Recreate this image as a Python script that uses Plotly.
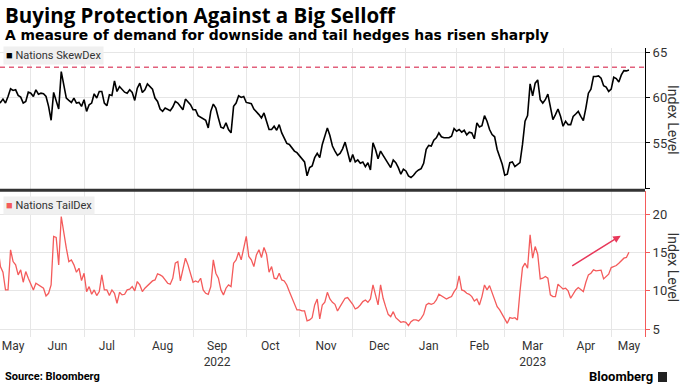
import pandas as pd
import plotly.graph_objects as go

# ---------------- data ----------------
holidays = ["2022-05-30", "2022-06-20", "2022-07-04", "2022-09-05", "2022-11-24",
            "2022-12-26", "2023-01-02", "2023-01-16", "2023-02-20", "2023-04-07"]
last_date = "2023-05-10"

skewdex = [
    59.57, 59.46, 59.83, 59.39, 60.12, 60.96, 60.78, 60.85, 60.23, 60.05,
    59.39, 59.57, 60.59, 60.48, 60.12, 60.85, 60.37, 60.48, 60.41, 60.12,
    59.03, 57.50, 60.56, 59.76, 58.74, 62.85, 61.58, 59.94, 59.68, 59.46,
    59.94, 59.39, 59.46, 59.03, 59.76, 58.48, 59.21, 59.39, 60.41, 59.94,
    60.67, 60.67, 59.39, 59.10, 60.30, 60.23, 61.83, 60.67, 61.21, 60.92,
    60.59, 60.48, 60.85, 60.56, 59.68, 61.03, 61.58, 60.56, 60.85, 61.50,
    61.21, 60.92, 59.94, 59.57, 58.74, 58.48, 58.84, 58.66, 58.55, 58.95,
    59.57, 59.39, 59.03, 58.66, 59.83, 59.46, 59.21, 58.66, 58.66, 58.01,
    57.82, 57.72, 57.50, 56.66, 58.48,
    59.28, 58.84, 57.75, 56.73, 56.62, 57.21, 56.48, 56.11, 59.03, 59.39,
    60.19, 60.01, 60.12, 59.46, 59.39, 59.32, 58.74, 58.48, 58.12, 57.75,
    58.30, 57.39, 56.48, 56.48, 56.84, 56.40, 57.02, 56.11, 55.57, 54.95,
    54.84, 54.47, 54.11, 53.93, 53.56, 53.27, 52.91, 51.38, 52.29, 52.47,
    53.38, 53.85, 53.38, 54.84, 55.68, 56.66, 55.82, 54.66, 54.11, 53.64,
    53.85, 54.36, 55.09, 53.85, 52.91, 53.74, 52.91, 53.13, 52.76, 52.91,
    52.40, 52.83, 52.03, 55.02, 54.29, 53.27, 54.11, 53.64, 53.20, 52.83,
    52.29, 53.13, 52.83, 52.29, 51.56, 52.11, 51.92, 51.38, 51.19,
    51.45, 51.81, 52.03, 52.18, 52.76, 54.29,
    54.73, 54.66, 55.31, 55.57, 56.11, 55.68, 55.57, 55.57, 55.57, 55.75,
    56.59, 56.29, 56.48, 56.19, 56.40, 55.89, 56.19, 56.11, 55.46, 57.21,
    56.77, 56.91, 58.01, 57.39, 56.48, 55.93, 55.68, 54.29, 53.56, 52.65,
    51.45, 51.56, 52.83, 52.91, 52.40, 52.65, 52.83, 54.84, 57.39, 58.01,
    61.50, 60.19, 61.58, 61.94, 59.76, 59.39, 59.76, 60.37, 58.95, 57.57,
    58.12, 58.74, 57.93, 56.84, 57.39, 57.02, 57.02, 57.93, 58.19, 58.48,
    57.93, 57.46, 58.84, 60.48, 60.92, 62.31, 62.31, 62.38, 62.12, 61.29,
    61.14, 60.67, 60.92, 62.23, 62.09, 61.72, 62.49, 62.96, 62.93, 63.03,
]

taildex = [
    15.78, 13.17, 12.43, 10.13, 10.13, 15.35, 13.82, 13.39, 12.09, 12.74,
    11.13, 12.52, 11.65, 10.78, 10.13, 11.00, 10.78, 10.56, 10.35, 9.35,
    9.69, 10.78, 17.09, 16.95, 13.39, 19.69, 17.30, 15.56, 13.82, 14.04,
    13.39, 12.43, 12.95, 11.35, 12.30, 9.91, 10.56, 9.56, 10.13, 9.39,
    9.91, 12.09, 10.13, 10.13, 9.39, 10.13, 9.69, 8.39, 9.82, 9.48,
    9.56, 10.13, 10.22, 10.56, 10.00, 11.22, 10.78, 9.91, 10.35, 10.69,
    11.00, 11.30, 11.43, 12.22, 12.09, 11.87, 11.43, 11.00, 10.87, 11.65,
    13.61, 13.82, 11.30, 12.74, 14.26, 13.39, 12.09, 11.13, 11.30, 11.13,
    11.65, 10.13, 9.69, 9.56, 10.56,
    14.04, 12.30, 11.65, 10.13, 9.48, 10.35, 10.78, 10.56, 13.61, 14.04,
    15.04, 14.04, 15.56, 17.09, 14.48, 14.04, 13.17, 14.69, 15.35, 14.35,
    15.65, 14.78, 12.43, 13.17, 11.65, 11.56, 12.30, 11.43, 11.30, 10.78,
    9.91, 9.04, 8.39, 7.52, 7.52, 7.39, 7.39, 6.09, 6.22, 6.52,
    8.17, 8.95, 6.35, 8.17, 8.52, 9.82, 8.95, 8.52, 8.26, 7.39,
    7.95, 8.52, 9.04, 9.13, 8.69, 8.26, 7.65, 7.82, 8.17, 8.61,
    8.82, 8.52, 8.95, 10.78, 9.48, 8.17, 10.78, 9.04, 7.95, 6.95,
    6.65, 7.30, 6.52, 6.22, 5.91, 6.00, 5.91, 5.48, 6.00,
    6.22, 6.22, 6.09, 6.43, 6.95, 8.17,
    8.39, 8.26, 8.39, 8.82, 9.56, 9.35, 9.13, 8.95, 9.13, 9.26,
    9.91, 10.35, 11.95, 10.13, 10.00, 9.69, 9.56, 9.26, 8.69, 8.95,
    8.17, 9.26, 10.78, 10.13, 10.69, 9.69, 8.69, 7.95, 7.52, 6.95,
    6.35, 5.78, 6.52, 6.43, 6.52, 6.22, 9.91, 13.04, 13.61, 12.95,
    17.30, 14.26, 15.78, 14.78, 11.56, 11.65, 11.87, 11.65, 9.48, 9.26,
    9.26, 10.87, 10.56, 10.26, 10.35, 10.00, 9.04, 9.69, 10.13, 10.43,
    10.13, 9.91, 11.13, 12.09, 12.30, 12.74, 12.61, 12.61, 12.70, 11.56,
    11.87, 12.17, 13.04, 13.17, 13.30, 13.61, 13.91, 14.26, 14.35, 15.04,
]

skew_reference_level = 63.33

month_label_dates = ["2022-05-20", "2022-06-15 12:00", "2022-07-15", "2022-08-16", "2022-09-15 12:00",
                     "2022-10-14 12:00", "2022-11-15 12:00", "2022-12-15 12:00", "2023-01-17",
                     "2023-02-14", "2023-03-16", "2023-04-17", "2023-05-10"]
month_labels = ["May", "Jun", "Jul", "Aug", "Sep<br>2022", "Oct", "Nov", "Dec", "Jan",
                "Feb", "Mar<br>2023", "Apr", "May"]
month_starts = ["2022-06-01", "2022-07-01", "2022-08-01", "2022-09-01", "2022-10-03",
                "2022-11-01", "2022-12-01", "2023-01-03", "2023-02-01", "2023-03-01",
                "2023-04-03", "2023-05-01"]
x_range = ["2022-05-12 20:00", "2023-05-18 08:00"]

skew_ticks = [50, 55, 60, 65]
skew_ticktext = ["", "55", "60", "65"]
tail_ticks = [5, 10, 15, 20]

# ---------------- figure ----------------
BLACK = "#000000"
RED = "#f45b5b"
GRID = "#e6e6e6"
TXT = "#333333"
FONT = "Roboto"

skew_dates = pd.bdate_range(end=last_date, periods=len(skewdex), freq="C", holidays=holidays)
tail_dates = pd.bdate_range(end=last_date, periods=len(taildex), freq="C", holidays=holidays)

fig = go.Figure()
fig.add_trace(go.Scatter(x=skew_dates, y=skewdex, mode="lines", xaxis="x", yaxis="y2",
                         line=dict(color=BLACK, width=1.6), name="Nations SkewDex",
                         hoverinfo="skip"))
fig.add_trace(go.Scatter(x=tail_dates, y=taildex, mode="lines", xaxis="x", yaxis="y",
                         line=dict(color=RED, width=1.3), name="Nations TailDex",
                         hoverinfo="skip"))

W, H = 683, 384
ML, MR, MT, MB = 0, 38, 48, 47
PH = H - MT - MB  # plot height in px
PW = W - ML - MR


def py(pix):
    """pixel y (from top) -> paper y"""
    return (H - MB - pix) / PH


def px(pix):
    return (pix - ML) / PW


fig.update_layout(
    width=W, height=H,
    margin=dict(l=ML, r=MR, t=MT, b=MB),
    paper_bgcolor="white", plot_bgcolor="white",
    showlegend=False,
    font=dict(family=FONT, color=TXT, size=12),
    xaxis=dict(
        anchor="y", range=x_range,
        rangebreaks=[dict(bounds=["sat", "mon"]), dict(values=holidays)],
        tickmode="array", tickvals=month_label_dates, ticktext=month_labels,
        showgrid=False, ticks="", showline=False, zeroline=False,
        tickfont=dict(size=12, color=TXT, family=FONT),
        minor=dict(tickmode="array", tickvals=month_starts, showgrid=True,
                   gridcolor=GRID, gridwidth=1, ticks=""),
    ),
    yaxis=dict(
        domain=[0, 0.505], range=[4, 23], side="right", anchor="x",
        tickmode="array", tickvals=tail_ticks,
        showgrid=True, gridcolor=GRID, zeroline=False,
        showline=True, linecolor=RED, linewidth=1,
        ticks="outside", ticklen=4, tickcolor=RED,
        tickfont=dict(size=13, color=TXT, family=FONT),
    ),
    yaxis2=dict(
        domain=[0.511, 1], range=[49.9, 65.45], side="right", anchor="x",
        tickmode="array", tickvals=skew_ticks, ticktext=skew_ticktext,
        showgrid=True, gridcolor=GRID, zeroline=False,
        showline=True, linecolor=BLACK, linewidth=1,
        ticks="outside", ticklen=4, tickcolor=BLACK,
        tickfont=dict(size=13, color=TXT, family=FONT),
    ),
)

# separator between panels and reference line
fig.add_shape(type="line", xref="paper", yref="paper", x0=0, x1=1, y0=0.508, y1=0.508,
              line=dict(color="#333333", width=3))
fig.add_shape(type="line", xref="paper", yref="y2", x0=0, x1=1,
              y0=skew_reference_level, y1=skew_reference_level,
              line=dict(color="#e2607c", width=1.5, dash="5px,4px"))

# Bloomberg logo square
fig.add_shape(type="rect", xref="paper", yref="paper",
              x0=px(658), x1=px(667), y0=py(382), y1=py(372),
              fillcolor="#222222", line=dict(width=0))

ann = []
ann.append(dict(text="<b>Buying Protection Against a Big Selloff</b>", xref="paper", yref="paper",
                x=px(3), y=py(15), xanchor="left", yanchor="middle", showarrow=False,
                font=dict(size=20.5, color="#000000", family="Open Sans")))
ann.append(dict(text="<b>A measure of demand for downside and tail hedges has risen sharply</b>",
                xref="paper", yref="paper", x=px(3), y=py(35), xanchor="left", yanchor="middle",
                showarrow=False, font=dict(size=13.9, color="#000000", family="DejaVu Sans")))
ann.append(dict(text="<span style='color:#000000'>■</span> Nations SkewDex", xref="paper", yref="paper",
                x=px(3), y=py(55.5), xanchor="left", yanchor="middle", showarrow=False,
                bgcolor="#f0f0f0", borderpad=2, font=dict(size=11, color=TXT, family=FONT)))
ann.append(dict(text="<span style='color:%s'>■</span> Nations TailDex" % RED, xref="paper", yref="paper",
                x=px(3), y=py(205), xanchor="left", yanchor="middle", showarrow=False,
                bgcolor="#f0f0f0", borderpad=2, font=dict(size=11, color=TXT, family=FONT)))
for yc in (120, 267.5):
    ann.append(dict(text="Index Level", xref="paper", yref="paper", x=px(673), y=py(yc),
                    xanchor="center", yanchor="middle", textangle=90, showarrow=False,
                    font=dict(size=14, color=TXT, family=FONT)))
ann.append(dict(text="<b>Source: Bloomberg</b>", xref="paper", yref="paper", x=px(3), y=py(377),
                xanchor="left", yanchor="middle", showarrow=False,
                font=dict(size=11, color="#000000", family=FONT)))
ann.append(dict(text="<b>Bloomberg</b>", xref="paper", yref="paper", x=px(655), y=py(377),
                xanchor="right", yanchor="middle", showarrow=False,
                font=dict(size=13, color="#000000", family=FONT)))
# red arrow
ann.append(dict(text="", xref="paper", yref="paper", x=px(620.7), y=py(235.7),
                ax=-50, ay=31, axref="pixel", ayref="pixel", showarrow=True,
                arrowhead=2, arrowsize=1, arrowwidth=1.5, arrowcolor="#e8385a"))
fig.update_layout(annotations=ann)

fig.write_html("out.html", config={"displayModeBar": False},
               post_script="document.body.style.margin='0px';")
